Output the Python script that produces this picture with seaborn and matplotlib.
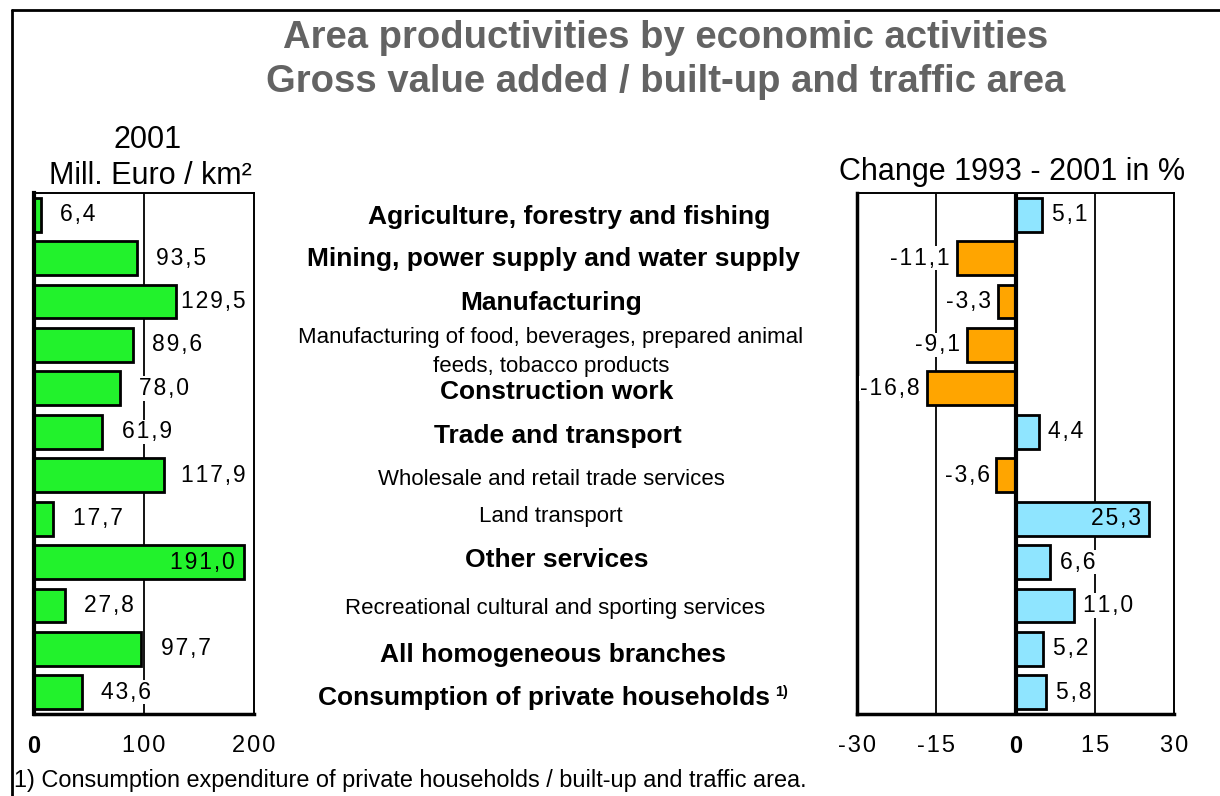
import numpy as np
import pandas as pd
import matplotlib
matplotlib.use("Agg")
import matplotlib.pyplot as plt
import matplotlib.transforms as mtransforms
from matplotlib.lines import Line2D
import seaborn as sns

# data
categories = [
    "Agriculture, forestry and fishing",
    "Mining, power supply and water supply",
    "Manufacturing",
    "Manufacturing of food, beverages, prepared animal\nfeeds, tobacco products",
    "Construction work",
    "Trade and transport",
    "Wholesale and retail trade services",
    "Land transport",
    "Other services",
    "Recreational cultural and sporting services",
    "All homogeneous branches",
    "Consumption of private households",
]
is_main = [True, True, True, False, True, True, False, False, True, False, True, True]
productivity_2001 = [6.4, 93.5, 129.5, 89.6, 78.0, 61.9, 117.9, 17.7, 191.0, 27.8, 97.7, 43.6]
change_93_01 = [5.1, -11.1, -3.3, -9.1, -16.8, 4.4, -3.6, 25.3, 6.6, 11.0, 5.2, 5.8]
left_ticks = [0, 100, 200]
right_ticks = [-30, -15, 0, 15, 30]

GREEN = "#22F22C"
ORANGE = "#FFA500"
BLUE = "#8FE5FF"
TITLE_GRAY = "#636363"

sns.set_style("white")
plt.rcParams["font.family"] = ["Liberation Sans", "DejaVu Sans"]
plt.rcParams["text.color"] = "black"
plt.rcParams["xtick.color"] = "black"

df = pd.DataFrame({
    "category": categories,
    "value": productivity_2001,
    "change": change_93_01,
})
df["sign"] = np.where(df["change"] < 0, "neg", "pos")

W, H = 1220, 796
fig = plt.figure(figsize=(W / 100, H / 100), dpi=100)

ax_l = fig.add_axes([34 / W, 1 - 714 / H, 220 / W, 521 / H])
ax_r = fig.add_axes([857 / W, 1 - 714 / H, 317 / W, 521 / H])


def spaced(s, gap="\u200a"):
    return gap.join(s)


def fmt(v):
    return spaced(f"{v:.1f}".replace(".", ","))


label_box = dict(facecolor="white", edgecolor="none", pad=0.5)
LBL = 16.5

# left panel: 2001 values
ax_l.axvline(100, color="black", lw=1.3, zorder=0)
sns.barplot(data=df, x="value", y="category", orient="h", color=GREEN,
            edgecolor="black", linewidth=2, width=0.78, saturation=1,
            ax=ax_l, zorder=2)
for i, v in enumerate(productivity_2001):
    if v > 170:
        ax_l.annotate(fmt(v), (v, i), xytext=(-7, 0), textcoords="offset points",
                      ha="right", va="center", fontsize=LBL, zorder=3)
    elif v > 110:
        # too close to the frame: keep the label inside the panel
        ax_l.annotate(fmt(v), (1, i), xycoords=("axes fraction", "data"),
                      xytext=(-6, 0), textcoords="offset points",
                      ha="right", va="center", fontsize=LBL, zorder=3,
                      bbox=label_box)
    else:
        ax_l.annotate(fmt(v), (v, i), xytext=(14, 0), textcoords="offset points",
                      ha="left", va="center", fontsize=LBL, zorder=3,
                      bbox=label_box)
ax_l.set_xlim(0, 200)
ax_l.set_ylim(11.5, -0.5)
ax_l.set_xticks(left_ticks)
ax_l.set_xticklabels([spaced(str(t)) for t in left_ticks], fontsize=17)
ax_l.get_xticklabels()[0].set_fontweight("bold")

# right panel: change 1993 - 2001
for g in [-15, 15]:
    ax_r.axvline(g, color="black", lw=1.3, zorder=0)
sns.barplot(data=df, x="change", y="category", hue="sign", orient="h",
            palette={"neg": ORANGE, "pos": BLUE}, dodge=False, legend=False,
            edgecolor="black", linewidth=2, width=0.78, saturation=1,
            ax=ax_r, zorder=2)
ax_r.axvline(0, color="black", lw=3, zorder=4)
for i, v in enumerate(change_93_01):
    if v > 20:
        ax_r.annotate(fmt(v), (v, i), xytext=(-6, 0), textcoords="offset points",
                      ha="right", va="center", fontsize=LBL, zorder=5)
    elif v >= 0:
        ax_r.annotate(fmt(v), (v, i), xytext=(7, 0), textcoords="offset points",
                      ha="left", va="center", fontsize=LBL, zorder=5,
                      bbox=label_box)
    else:
        ax_r.annotate(fmt(v), (v, i), xytext=(-5, 0), textcoords="offset points",
                      ha="right", va="center", fontsize=LBL, zorder=5,
                      bbox=label_box)
ax_r.set_xlim(-30, 30)
ax_r.set_ylim(11.5, -0.5)
ax_r.set_xticks(right_ticks)
ax_r.set_xticklabels([spaced(str(t)) for t in right_ticks], fontsize=17)
ax_r.get_xticklabels()[2].set_fontweight("bold")

for ax in (ax_l, ax_r):
    ax.set_xlabel("")
    ax.set_ylabel("")
    ax.set_yticks([])
    ax.tick_params(axis="x", direction="out", length=6, width=1.5, pad=9,
                   colors="black")
    for s in ax.spines.values():
        s.set_visible(True)
        s.set_color("black")
        s.set_linewidth(1.4)
    ax.spines["left"].set_linewidth(3)
    ax.spines["bottom"].set_linewidth(2.5)
ax_r.spines["left"].set_linewidth(2.5)

# category names in the middle column
row_shift = [0.05, 0.03, 0.03, 0.16, 0.08, 0.1, 0.1, -0.05, -0.05, 0.08, 0.15, 0.12]
x_center = [569, 553, 551, 551, 557, 558, 551, 551, 557, 555, 553, 544]
trans = mtransforms.blended_transform_factory(fig.transFigure, ax_l.transData)
for i, (name, main) in enumerate(zip(categories, is_main)):
    t = fig.text(x_center[i] / W, i + row_shift[i], name, transform=trans,
                 ha="center", va="center", fontsize=19 if main else 16,
                 fontweight="bold" if main else "normal",
                 linespacing=1.45)
    if i == len(categories) - 1:
        ax_l.annotate("1)", xy=(1, 0.75), xycoords=t, xytext=(4, 0),
                      textcoords="offset points", ha="left", va="center",
                      fontsize=10.5, fontweight="bold", annotation_clip=False)

# titles
fig.text(666 / W, 1 - 38 / H, "Area productivities by economic activities",
         ha="center", va="center", fontsize=27.5, fontweight="bold", color=TITLE_GRAY)
fig.text(666 / W, 1 - 82 / H, "Gross value added / built-up and traffic area",
         ha="center", va="center", fontsize=27.5, fontweight="bold", color=TITLE_GRAY)
fig.text(148 / W, 1 - 140 / H, "2001", ha="center", va="center", fontsize=22)
fig.text(150 / W, 1 - 176 / H, "Mill. Euro / km²", ha="center", va="center", fontsize=22)
fig.text(1012 / W, 1 - 172 / H, "Change 1993 - 2001 in %", ha="center",
         va="center", fontsize=22)
fig.text(14 / W, 1 - 780 / H,
         "1) Consumption expenditure of private households / built-up and traffic area.",
         ha="left", va="center", fontsize=16.9)

# outer frame (left and top edges visible)
fig.add_artist(Line2D([12 / W, 12 / W], [0, 1 - 10 / H], transform=fig.transFigure,
                      color="black", lw=2))
fig.add_artist(Line2D([12 / W, 1], [1 - 10 / H, 1 - 10 / H], transform=fig.transFigure,
                      color="black", lw=2))

fig.savefig("out.png", dpi=100)
